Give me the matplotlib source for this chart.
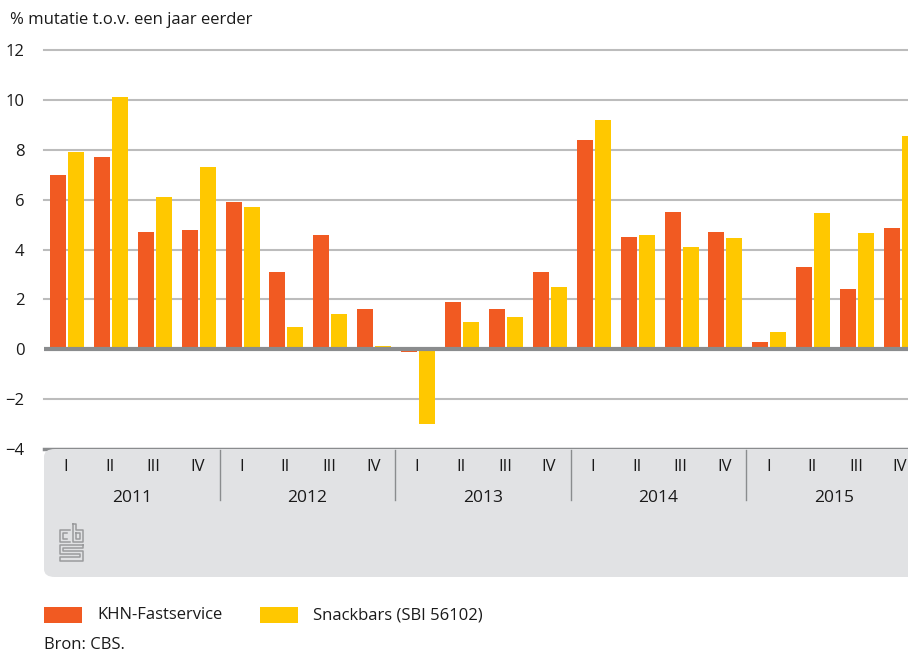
import matplotlib
matplotlib.use("Agg")
import matplotlib.pyplot as plt
from matplotlib.patches import FancyBboxPatch, Rectangle
import numpy as np

plt.rcParams['font.family'] = ['Open Sans', 'DejaVu Sans']

years = ['2011', '2012', '2013', '2014', '2015']
quarters = ['I', 'II', 'III', 'IV']
khn = [7.0, 7.7, 4.7, 4.8,
       5.9, 3.1, 4.6, 1.6,
       -0.1, 1.9, 1.6, 3.1,
       8.4, 4.5, 5.5, 4.7,
       0.3, 3.3, 2.4, 4.85]
snack = [7.9, 10.1, 6.1, 7.3,
         5.7, 0.9, 1.4, 0.15,
         -3.0, 1.1, 1.3, 2.5,
         9.2, 4.6, 4.1, 4.45,
         0.7, 5.45, 4.65, 8.55]
yticks = [-4, -2, 0, 2, 4, 6, 8, 10, 12]

ORANGE = '#f15a22'
YELLOW = '#ffc800'
TXT = '#1a1a1a'
W, H = 908, 652

fig = plt.figure(figsize=(W / 100, H / 100), dpi=100)

def fx(px):
    return px / W

def fy(py):
    return 1 - py / H

# grijs vlak onder de as
panel = FancyBboxPatch((fx(44), fy(577)), fx(900), fy(449) - fy(577),
                       boxstyle="round,pad=0,rounding_size=0.012",
                       transform=fig.transFigure, facecolor='#e1e2e4',
                       edgecolor='none', zorder=0)
fig.patches.append(panel)

ax = fig.add_axes([fx(44), fy(449), fx(864), fy(50) - fy(449)])
ax.set_facecolor('none')
n = len(khn)
x = np.arange(n)
q_px = 43.9
bw = 16 / q_px
ax.bar(x - 8 / q_px, khn, width=bw, color=ORANGE, zorder=3)
ax.bar(x + 10 / q_px, snack, width=bw, color=YELLOW, zorder=3)

ax.set_xlim(-0.5, -0.5 + 864 / q_px)
ax.set_ylim(-4, 12)
for v in yticks:
    if v == 0:
        ax.axhline(v, color='#8a8c8e', lw=3, zorder=4)
    elif v == -4:
        ax.axhline(v, color='#8a8c8e', lw=2.5, zorder=4, clip_on=False)
    else:
        ax.axhline(v, color='#bcbcbc', lw=1.5, zorder=1, clip_on=False)

ax.set_yticks(yticks)
ax.set_yticklabels([str(v).replace('-', '\u2212') for v in yticks])
ax.tick_params(axis='y', length=0, pad=14, labelsize=12, colors=TXT)
ax.set_xticks([])
for s in ax.spines.values():
    s.set_visible(False)

# kwartalen en jaren
for i in range(n):
    fig.text(fx(44 + (i + 0.5) * q_px), fy(467), quarters[i % 4],
             ha='center', va='center', fontsize=12, color=TXT)
for j, yr in enumerate(years):
    fig.text(fx(44 + (j * 4 + 2) * q_px), fy(498), yr,
             ha='center', va='center', fontsize=12.5, color=TXT)
    if j > 0:
        xs = fx(44 + j * 4 * q_px)
        fig.add_artist(plt.Line2D([xs, xs], [fy(450), fy(500)],
                                  transform=fig.transFigure, color='#8a8c8e', lw=1))

# cbs logo (grof)
lc = '#9a9b9d'
def seg(pts):
    px_ = [fx(p[0]) for p in pts]
    py_ = [fy(p[1]) for p in pts]
    fig.add_artist(plt.Line2D(px_, py_, transform=fig.transFigure, color=lc, lw=1.1))
seg([(70, 530), (60, 530), (60, 542), (70, 542)])
seg([(67, 533), (63, 533), (63, 539), (67, 539)])
seg([(73, 524), (73, 542), (83, 542), (83, 530), (76, 530), (76, 524), (73, 524)])
seg([(76, 533), (80, 533), (80, 539), (76, 539), (76, 533)])
seg([(83, 545), (60, 545), (60, 554), (80, 554), (80, 557), (60, 557), (60, 561),
     (83, 561), (83, 551), (63, 551), (63, 548), (83, 548), (83, 545)])

# legenda
fig.patches.append(Rectangle((fx(44), fy(623)), fx(38), fy(607) - fy(623),
                             transform=fig.transFigure, facecolor=ORANGE, edgecolor='none'))
fig.text(fx(97), fy(615), 'KHN-Fastservice', ha='left', va='center', fontsize=12, color=TXT)
fig.patches.append(Rectangle((fx(260), fy(623)), fx(38), fy(607) - fy(623),
                             transform=fig.transFigure, facecolor=YELLOW, edgecolor='none'))
fig.text(fx(313), fy(615), 'Snackbars (SBI 56102)', ha='left', va='center', fontsize=12, color=TXT)

fig.text(fx(10), fy(20), '% mutatie t.o.v. een jaar eerder', ha='left', va='center',
         fontsize=12, color=TXT)
fig.text(fx(44), fy(645), 'Bron: CBS.', ha='left', va='center', fontsize=12, color=TXT)

fig.savefig('out.png', dpi=100)
